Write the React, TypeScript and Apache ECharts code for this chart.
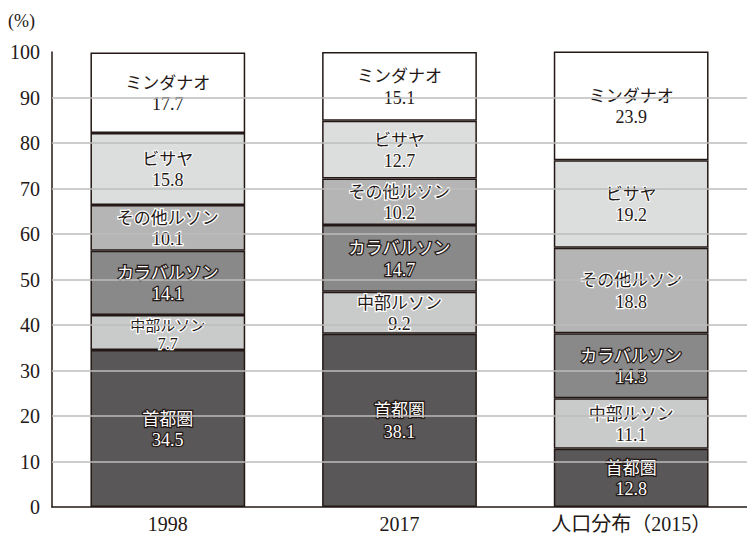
import React, { useEffect, useRef } from "react";
import * as echarts from "echarts";

const categories = ["1998", "2017", "人口分布（2015）"];
const seriesNames = ["首都圏", "中部ルソン", "カラバルソン", "その他ルソン", "ビサヤ", "ミンダナオ"];
const shutoken = [34.5, 38.1, 12.8];
const chubuLuzon = [7.7, 9.2, 11.1];
const calabarzon = [14.1, 14.7, 14.3];
const otherLuzon = [10.1, 10.2, 18.8];
const visayas = [15.8, 12.7, 19.2];
const mindanao = [17.7, 15.1, 23.9];
const gridValues = [10, 20, 30, 40, 50, 60, 70, 80, 90];

const SERIF = "'Liberation Serif', 'DejaVu Serif', serif";
const CJK = "'Noto Sans CJK JP', sans-serif";

export default function App() {
  const ref = useRef<HTMLDivElement>(null);
  useEffect(() => {
    if (!ref.current) return;
    const chart = echarts.init(ref.current, null, { renderer: "svg" });
    const values = [shutoken, chubuLuzon, calabarzon, otherLuzon, visayas, mindanao];
    const fills = ["#595757", "#c9caca", "#898989", "#b5b5b5", "#dcdddd", "#ffffff"];
    const textFill = ["#ffffff", "#231815", "#ffffff", "#231815", "#231815", "#231815"];
    const textBorder = ["#231815", "#ffffff", "#231815", "#ffffff", "#ffffff", "#ffffff"];
    const textBorderW = [2.5, 2.5, 2.5, 2.5, 2, 2];

    const makeRich = (i: number, lh: number, fa: number, fb: number) => ({
      a: {
        fontFamily: CJK,
        fontSize: fa,
        lineHeight: lh,
        color: textFill[i],
        textBorderColor: textBorder[i],
        textBorderWidth: textBorderW[i],
      },
      b: {
        fontFamily: SERIF,
        fontSize: fb,
        lineHeight: lh,
        color: textFill[i],
        textBorderColor: textBorder[i],
        textBorderWidth: textBorderW[i],
      },
    });

    const barSeries = values.map((arr, i) => ({
      name: seriesNames[i],
      type: "bar",
      stack: "total",
      barWidth: "66.8%",
      z: 3,
      itemStyle: { color: fills[i], borderColor: "#231815", borderWidth: 1.5 },
      label: {
        show: true,
        position: "inside",
        formatter: (p: any) => `{a|${p.seriesName}}\n{b|${p.value}}`,
        rich: makeRich(i, 23, 17, 18),
      },
      data: arr.map((v, j) => {
        if (i === 1 && j === 0) {
          return {
            value: v,
            label: { offset: [0, 1], rich: makeRich(i, 19, 15, 16) },
          };
        }
        return v;
      }),
    }));

    chart.setOption({
      animation: false,
      grid: { left: 52, top: 52, bottom: 27, width: 705 },
      graphic: [
        {
          type: "text",
          left: 8,
          top: 12,
          style: { text: "(%)", font: `18px ${SERIF}`, fill: "#231815" },
        },
      ],
      xAxis: {
        type: "category",
        data: categories,
        axisLine: { lineStyle: { color: "#231815", width: 1.5 } },
        axisTick: { show: false },
        axisLabel: {
          color: "#231815",
          fontFamily: `'Liberation Serif', ${CJK}`,
          fontSize: 20,
          margin: 7,
        },
      },
      yAxis: {
        type: "value",
        min: 0,
        max: 100,
        interval: 10,
        axisLine: { show: true, lineStyle: { color: "#231815", width: 1.5 } },
        axisTick: { show: false },
        splitLine: { show: false },
        axisLabel: {
          color: "#231815",
          fontFamily: SERIF,
          fontSize: 20,
          margin: 12,
        },
      },
      series: [
        {
          type: "line",
          data: [],
          z: 1,
          silent: true,
          markLine: {
            silent: true,
            symbol: "none",
            label: { show: false },
            lineStyle: { color: "#bdbdbd", type: "solid", width: 1.5 },
            data: gridValues.map((v) => ({ yAxis: v })),
          },
        },
        ...barSeries,
      ],
    });
    return () => chart.dispose();
  }, []);
  return (
    <div
      ref={ref}
      style={{ position: "fixed", left: 0, top: 0, width: 747, height: 534, background: "#fff" }}
    />
  );
}
